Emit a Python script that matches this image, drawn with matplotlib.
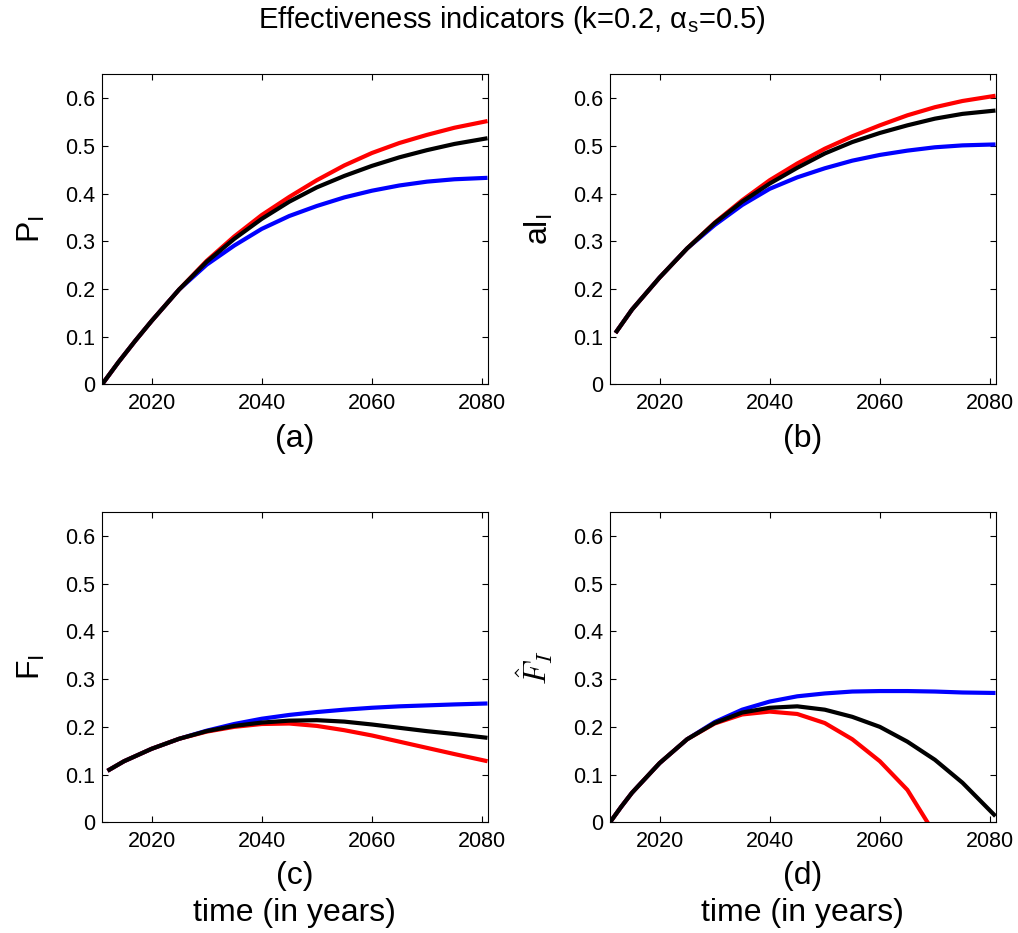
#!/usr/bin/env python3
"""Effectiveness indicators P_I, aI_I, F_I and F-hat_I over time for three scenarios."""

import matplotlib

matplotlib.use("Agg")
import matplotlib.pyplot as plt

plt.rcParams["font.family"] = ["Liberation Sans", "DejaVu Sans"]
plt.rcParams["mathtext.fontset"] = "custom"
plt.rcParams["mathtext.rm"] = "Liberation Sans"
plt.rcParams["mathtext.it"] = "Liberation Sans:italic"

# (a) P_I
years_a = [2011, 2014, 2017, 2020, 2025, 2030, 2035, 2040, 2045, 2050, 2055, 2060, 2065, 2070, 2075, 2081]
p_blue = [0.0, 0.047, 0.091, 0.133, 0.199, 0.251, 0.291, 0.326, 0.353, 0.374, 0.392, 0.406, 0.417, 0.425, 0.430, 0.433]
p_red = [0.0, 0.047, 0.091, 0.133, 0.199, 0.259, 0.310, 0.355, 0.393, 0.428, 0.459, 0.485, 0.506, 0.523, 0.538, 0.552]
p_black = [0.0, 0.047, 0.091, 0.133, 0.199, 0.257, 0.305, 0.347, 0.383, 0.413, 0.437, 0.458, 0.476, 0.491, 0.504, 0.516]

# (b) aI_I
years_b = [2012, 2015, 2020, 2025, 2030, 2035, 2040, 2045, 2050, 2055, 2060, 2065, 2070, 2075, 2081]
ai_blue = [0.108, 0.157, 0.224, 0.285, 0.334, 0.376, 0.410, 0.434, 0.453, 0.469, 0.481, 0.490, 0.497, 0.501, 0.503]
ai_red = [0.108, 0.157, 0.224, 0.285, 0.339, 0.386, 0.428, 0.463, 0.494, 0.520, 0.543, 0.564, 0.581, 0.594, 0.605]
ai_black = [0.108, 0.157, 0.224, 0.285, 0.338, 0.383, 0.421, 0.454, 0.484, 0.508, 0.527, 0.543, 0.557, 0.567, 0.574]

# (c) F_I
years_c = [2012, 2015, 2020, 2025, 2030, 2035, 2040, 2045, 2050, 2055, 2060, 2065, 2070, 2075, 2081]
f_blue = [0.108, 0.128, 0.154, 0.175, 0.192, 0.206, 0.217, 0.225, 0.231, 0.236, 0.240, 0.243, 0.245, 0.247, 0.249]
f_red = [0.108, 0.128, 0.154, 0.175, 0.190, 0.200, 0.206, 0.207, 0.202, 0.193, 0.182, 0.169, 0.156, 0.143, 0.128]
f_black = [0.108, 0.128, 0.154, 0.175, 0.191, 0.202, 0.209, 0.213, 0.214, 0.211, 0.205, 0.198, 0.191, 0.185, 0.177]

# (d) F-hat_I (red drops below zero after ~2068)
years_d = [2011, 2013, 2015, 2020, 2025, 2030, 2035, 2040, 2045, 2050, 2055, 2060, 2065, 2070, 2075, 2081]
fh_blue = [0.0, 0.032, 0.062, 0.124, 0.174, 0.210, 0.236, 0.253, 0.264, 0.270, 0.274, 0.275, 0.275, 0.274, 0.272, 0.271]
years_d_red = [2011, 2013, 2015, 2020, 2025, 2030, 2035, 2040, 2045, 2050, 2055, 2060, 2065, 2070]
fh_red = [0.0, 0.032, 0.062, 0.124, 0.174, 0.207, 0.226, 0.232, 0.227, 0.208, 0.174, 0.128, 0.068, -0.025]
fh_black = [0.0, 0.032, 0.062, 0.124, 0.174, 0.208, 0.230, 0.240, 0.243, 0.236, 0.221, 0.200, 0.169, 0.131, 0.083, 0.013]

y_ticks = [0, 0.1, 0.2, 0.3, 0.4, 0.5, 0.6]
y_tick_labels = ["0", "0.1", "0.2", "0.3", "0.4", "0.5", "0.6"]
x_ticks = [2020, 2040, 2060, 2080]

LINE_WIDTH = 3.0


def style_axes(ax):
    ax.set_xlim(2011, 2081)
    ax.set_ylim(0, 0.65)
    ax.set_xticks(x_ticks)
    ax.set_yticks(y_ticks)
    ax.set_yticklabels(y_tick_labels)
    ax.tick_params(direction="in", top=True, right=True, length=4, width=0.8, labelsize=15.5)
    ax.tick_params(axis="x", pad=6)
    ax.tick_params(axis="y", pad=5)
    for spine in ax.spines.values():
        spine.set_linewidth(0.8)


def draw_panel(ax, years, blue, red, black, red_years=None):
    line_kw = dict(linewidth=LINE_WIDTH, solid_capstyle="butt", solid_joinstyle="round")
    ax.plot(years, blue, color="#0000FF", **line_kw)
    ax.plot(red_years if red_years else years, red, color="#FF0000", **line_kw)
    ax.plot(years, black, color="#000000", **line_kw)
    style_axes(ax)


fig = plt.figure(figsize=(10.18, 9.33), dpi=100)
ax_a = fig.add_axes([0.1002, 0.5879, 0.3787, 0.3325])
ax_b = fig.add_axes([0.5992, 0.5879, 0.3787, 0.3325])
ax_c = fig.add_axes([0.1002, 0.1186, 0.3787, 0.3326])
ax_d = fig.add_axes([0.5992, 0.1186, 0.3787, 0.3326])

draw_panel(ax_a, years_a, p_blue, p_red, p_black)
draw_panel(ax_b, years_b, ai_blue, ai_red, ai_black)
draw_panel(ax_c, years_c, f_blue, f_red, f_black)
draw_panel(ax_d, years_d, fh_blue, fh_red, fh_black, red_years=years_d_red)

label_size = 23
ax_a.set_ylabel(r"P$_\mathregular{I}$", fontsize=label_size, labelpad=13)
ax_b.set_ylabel(r"al$_\mathregular{I}$", fontsize=label_size, labelpad=13)
ax_c.set_ylabel(r"F$_\mathregular{I}$", fontsize=label_size, labelpad=13)
ax_d.set_ylabel(r"$\hat{F}_I$", fontsize=label_size, labelpad=13, math_fontfamily="cm")

ax_a.set_xlabel("(a)", fontsize=label_size, labelpad=7)
ax_b.set_xlabel("(b)", fontsize=label_size, labelpad=7)
ax_c.set_xlabel("(c)\ntime (in years)", fontsize=label_size, labelpad=7, linespacing=1.28)
ax_d.set_xlabel("(d)\ntime (in years)", fontsize=label_size, labelpad=7, linespacing=1.28)

fig.text(
    0.5025,
    1 - 4 / 933,
    r"Effectiveness indicators (k=0.2, $\mathregular{\alpha_s}$=0.5)",
    ha="center",
    va="top",
    fontsize=21,
)

fig.savefig("out.png", dpi=100, facecolor="white")
